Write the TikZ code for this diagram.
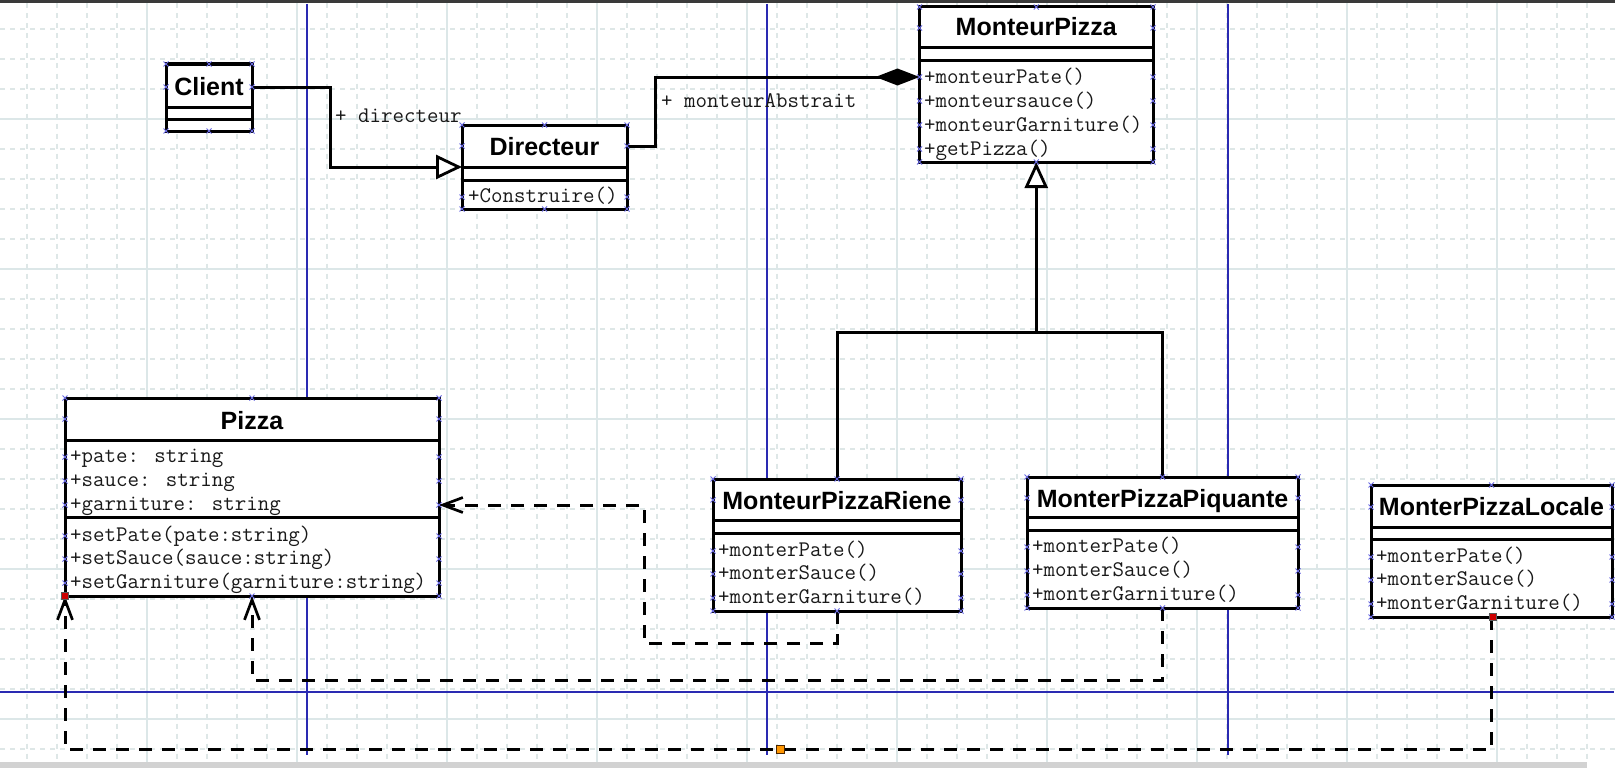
\documentclass[tikz,border=0pt]{standalone}
\usepackage{fontspec}
\setmainfont{Liberation Sans}
\usetikzlibrary{arrows.meta}
\definecolor{gridd}{RGB}{222,231,231}
\definecolor{grids}{RGB}{220,231,232}
\definecolor{guideblue}{RGB}{42,42,178}
\definecolor{selblue}{RGB}{105,105,225}
\definecolor{topbar}{RGB}{58,58,58}
\definecolor{botbar}{RGB}{210,210,210}
\definecolor{handred}{RGB}{205,0,0}
\definecolor{handorange}{RGB}{255,150,0}
\newcommand\umlsel[2]{\draw[selmark] ({#1-2.5},{#2-2.5}) -- ({#1+2.5},{#2+2.5}) ({#1-2.5},{#2+2.5}) -- ({#1+2.5},{#2-2.5});}
\newcommand\umlselmarks[5]{%
  \foreach \xx in {#1,#3}{\foreach \yy in {#2,#4,#5}{\umlsel{\xx}{\yy}}}%
  \umlsel{(#1+#3)/2}{#2}\umlsel{(#1+#3)/2}{#4}}
\begin{document}
\begin{tikzpicture}[x=1pt,y=-1pt,
  clsbox/.style={draw=black, fill=white, line width=3pt, inner sep=0pt, outer sep=0pt},
  clsdiv/.style={line width=3pt, black},
  ttl/.style={font=\fontsize{25}{28}\selectfont\bfseries, inner sep=0pt, anchor=base},
  row/.style={font=\ttfamily\fontsize{22.3}{25}\selectfont, text=black!90, inner sep=0pt, anchor=mid west},
  conn/.style={line width=3pt, black},
  dep/.style={line width=3pt, black, dash pattern=on 13pt off 10pt},
  depTip/.style={-{Straight Barb[length=20pt,width=15pt,line width=2.7pt]}},
  selmark/.style={selblue, line width=0.8pt},
  gridline/.style={gridd, line width=1.1pt, dash pattern=on 5pt off 5pt},
  gridmajor/.style={grids, line width=1.6pt},
  guide/.style={guideblue, line width=1.4pt},
  handle/.style={draw=black!65, line width=0.6pt, inner sep=0pt, outer sep=0pt, minimum size=7pt}
]
\useasboundingbox (0,0) rectangle (1621,768);
\fill[white] (0,0) rectangle (1621,768);

% grid
\foreach \i in {0,...,52}{\draw[gridline] ({27+30*\i},3.5) -- ({27+30*\i},762);}
\foreach \i in {0,...,24}{\draw[gridline] (0,{29+30*\i}) -- (1615,{29+30*\i});}
\foreach \xx in {147,297,...,1497}{\draw[gridmajor] (\xx,3.5) -- (\xx,762);}
\foreach \yy in {119,269,...,719}{\draw[gridmajor] (0,\yy) -- (1615,\yy);}

% window bars
\fill[topbar] (0,0) rectangle (1615,3.5);
\fill[botbar] (0,762) rectangle (1587,768);

% guide lines
\foreach \xx in {307,767,1228}{\draw[guide] (\xx,4) -- (\xx,755);}
\draw[guide] (0,692) -- (1614,692);

% class boxes (frames)
\node[clsbox, minimum width=86pt, minimum height=67pt] (client) at (209,97.5) {};
\node[clsbox, minimum width=165pt, minimum height=84pt] (directeur) at (544.5,167) {};
\node[clsbox, minimum width=233.5pt, minimum height=155pt] (monteur) at (1036.25,84.5) {};
\node[clsbox, minimum width=374pt, minimum height=198pt] (pizza) at (252,497) {};
\node[clsbox, minimum width=248pt, minimum height=132pt] (riene) at (837,545) {};
\node[clsbox, minimum width=271pt, minimum height=131pt] (piquante) at (1162.5,542.5) {};
\node[clsbox, minimum width=241pt, minimum height=132pt] (locale) at (1491.5,551) {};

% connectors
\coordinate (k1) at (330,87);
\coordinate (k2) at (330,167);
\draw[conn, -{Triangle[length=26pt,width=24pt,fill=white,line width=2.8pt]}]
  (k1 -| client.east) -- (k1) -- (k2) -- (k2 -| directeur.west);
\node[row] (lblDir) at (335,120) {+ directeur};

\coordinate (k3) at (655.5,146);
\coordinate (k4) at (655.5,77);
\draw[conn, -{Diamond[length=44pt,width=17pt]}]
  (k3 -| directeur.east) -- (k3) -- (k4) -- (k4 -| monteur.west);
\node[row] (lblMon) at (661,105) {+ monteurAbstrait};

\coordinate (g1) at (837,332);
\coordinate (g2) at (1162.5,332);
\coordinate (g3) at (1036.25,332);
\draw[conn] (riene.north) -- (g1) -- (g2) -- (piquante.north);
\draw[conn, -{Triangle[length=26pt,width=23pt,fill=white,line width=2.8pt]}] (g3) -- (monteur.south);

\coordinate (d1) at (644,643);
\coordinate (d2) at (644,505);
\draw[dep, depTip] (riene.south) |- (d1) -- (d2) -- (d2 -| pizza.east);
\coordinate (d3) at (700,680);
\draw[dep, depTip] (piquante.south) -- (piquante.south |- d3) -| (pizza.south);
\coordinate (d4) at (700,749);
\draw[dep, depTip] (locale.south) -- (locale.south |- d4) -| (pizza.south west);

% Client
\draw[clsdiv] (166,107) -- (252,107);
\draw[clsdiv] (166,119) -- (252,119);
\node[ttl] (clientT) at (209,95) {Client};

% Directeur
\draw[clsdiv] (462,167) -- (627,167);
\draw[clsdiv] (462,180) -- (627,180);
\node[ttl] (directeurT) at (544.5,155) {Directeur};
\node[row] (dirM1) at (468,200) {+Construire()};

% MonteurPizza
\draw[clsdiv] (919.5,48) -- (1153,48);
\draw[clsdiv] (919.5,61) -- (1153,61);
\node[ttl] (monteurT) at (1036.25,36) {MonteurPizza};
\node[row] (monM1) at (924,81) {+monteurPate()};
\node[row] (monM2) at (924,104.5) {+monteursauce()};
\node[row] (monM3) at (924,128.5) {+monteurGarniture()};
\node[row] (monM4) at (924,152.5) {+getPizza()};

% Pizza
\draw[clsdiv] (65,440) -- (439,440);
\draw[clsdiv] (65,517) -- (439,517);
\node[ttl] (pizzaT) at (252,429) {Pizza};
\node[row] (pizA1) at (70,460) {+pate: string};
\node[row] (pizA2) at (70,484) {+sauce: string};
\node[row] (pizA3) at (70,508) {+garniture: string};
\node[row] (pizM1) at (70,539) {+setPate(pate:string)};
\node[row] (pizM2) at (70,562) {+setSauce(sauce:string)};
\node[row] (pizM3) at (70,586) {+setGarniture(garniture:string)};

% MonteurPizzaRiene
\draw[clsdiv] (713,520) -- (961,520);
\draw[clsdiv] (713,533) -- (961,533);
\node[ttl] (rieneT) at (837,509) {MonteurPizzaRiene};
\node[row] (rieM1) at (718,554) {+monterPate()};
\node[row] (rieM2) at (718,577) {+monterSauce()};
\node[row] (rieM3) at (718,601) {+monterGarniture()};

% MonterPizzaPiquante
\draw[clsdiv] (1027,517) -- (1298,517);
\draw[clsdiv] (1027,530) -- (1298,530);
\node[ttl] (piquanteT) at (1162.5,507) {MonterPizzaPiquante};
\node[row] (piqM1) at (1032,550) {+monterPate()};
\node[row] (piqM2) at (1032,574) {+monterSauce()};
\node[row] (piqM3) at (1032,598) {+monterGarniture()};

% MonterPizzaLocale
\draw[clsdiv] (1371,527) -- (1612,527);
\draw[clsdiv] (1371,539) -- (1612,539);
\node[ttl] (localeT) at (1491.5,515) {MonterPizzaLocale};
\node[row] (locM1) at (1376,560) {+monterPate()};
\node[row] (locM2) at (1376,583) {+monterSauce()};
\node[row] (locM3) at (1376,607) {+monterGarniture()};

% selection marks
\umlselmarks{166}{64}{252}{131}{87}
\umlselmarks{462}{125}{627}{209}{146,197}
\umlselmarks{919.5}{7}{1153}{162}{28,77,101,125,149}
\umlselmarks{65}{398}{439}{596}{419,457,481,505,536,559,583}
\umlselmarks{713}{479}{961}{611}{500,551,574,598}
\umlselmarks{1027}{477}{1298}{608}{498,547,571,595}
\umlselmarks{1371}{485}{1612}{617}{507,557,580,604}

% handles
\node[handle, fill=handred] (hA) at (65,596) {};
\node[handle, fill=handred] (hB) at (1493,617) {};
\node[handle, fill=handorange, draw=black!70!orange, minimum size=8pt] (hC) at (780,749) {};
\end{tikzpicture}
\end{document}
